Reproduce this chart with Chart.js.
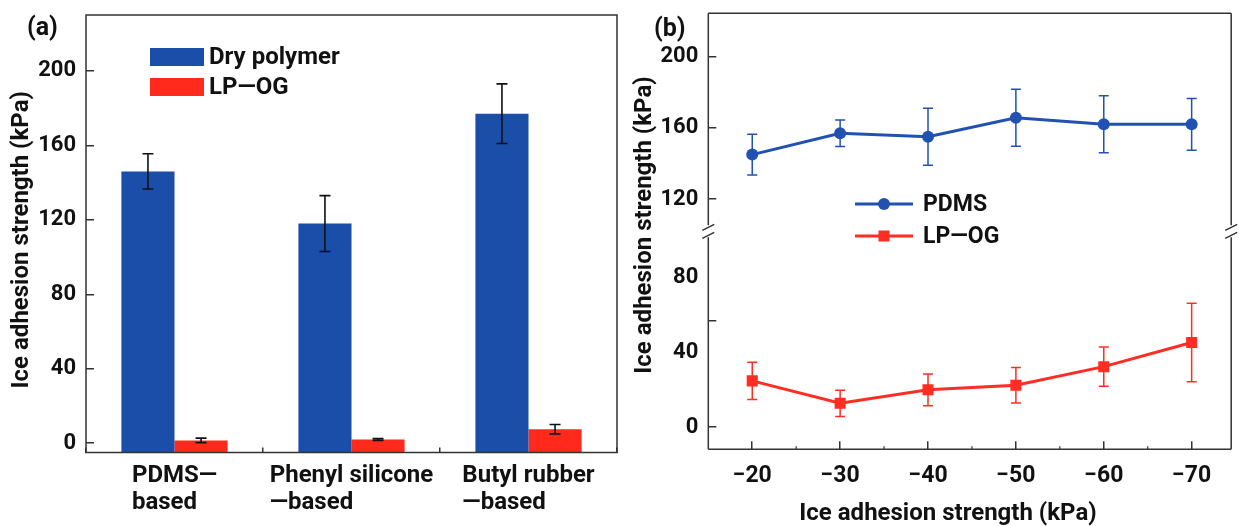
<!DOCTYPE html>
<html>
<head>
<meta charset="utf-8">
<script src="https://cdn.jsdelivr.net/npm/chart.js@4.4.1/dist/chart.umd.min.js"></script>
<style>
  html, body { margin: 0; padding: 0; background: #fff; }
  #wrap { position: relative; width: 1239px; height: 526px; }
  canvas { position: absolute; top: 0; }
  #chartA { left: 0; }
  #chartB { left: 620px; }
</style>
</head>
<body>
<div id="wrap">
  <canvas id="chartA" width="620" height="526"></canvas>
  <canvas id="chartB" width="619" height="526"></canvas>
</div>
<script>
// (a) ice adhesion of the three polymer families
const polymers = [["PDMS—", "based"], ["Phenyl silicone", "—based"], ["Butyl rubber", "—based"]];
const dryValues = [146, 118, 177];
const dryErrors = [9.5, 15, 16];
const lpogValues = [1.5, 2, 7.5];
const lpogErrors = [1.2, 0.5, 2.5];
const ticksA = [0, 40, 80, 120, 160, 200];

// (b) adhesion versus temperature
const temps = [-20, -30, -40, -50, -60, -70];
const minorTemps = [-25, -35, -45, -55, -65];
const pdmsValues = [145, 157, 155, 165.7, 162, 162];
const pdmsErrors = [11.5, 7.5, 16, 16, 16, 14.5];
const lpogTempValues = [24.8, 12.8, 20, 22.5, 32.4, 45.3];
const lpogTempErrors = [10, 7, 8.5, 9.5, 10.5, 21];
const upperTicks = [120, 160, 200];
const lowerLabelTicks = [0, 40, 80];
const lowerMarkTicks = [0, 57];

const FONT = 'Roboto, "Liberation Sans", sans-serif';
const BLUE = '#1b4ea8';
const RED = '#ff2a1c';
const LINE_BLUE = '#2152b2';
const LINE_RED = '#ff2d22';
const TEXT = '#111';
const AXIS = '#333';
const TITLE = 'Ice adhesion strength (kPa)';

Chart.defaults.font.family = FONT;
Chart.defaults.font.weight = 'bold';
Chart.defaults.color = TEXT;

// keep the label overhang of a scale from pushing the plot area around
function noOverhang(s) {
  s.paddingTop = 0;
  s.paddingBottom = 0;
  s.paddingLeft = 0;
  s.paddingRight = 0;
}

const errorBars = {
  id: 'errorBars',
  afterDatasetsDraw(chart) {
    const ctx = chart.ctx;
    chart.data.datasets.forEach((ds, di) => {
      if (!ds.errors) return;
      const meta = chart.getDatasetMeta(di);
      const ys = chart.scales[meta.yAxisID];
      ctx.save();
      ctx.strokeStyle = ds.errorColor;
      ctx.lineWidth = ds.errorWidth;
      meta.data.forEach((el, i) => {
        const raw = ds.data[i];
        const v = typeof raw === 'object' ? raw.y : raw;
        const e = ds.errors[i];
        const top = ys.getPixelForValue(v + e);
        const bot = ys.getPixelForValue(v - e);
        const x = el.x, c = ds.capHalf;
        ctx.beginPath();
        ctx.moveTo(x, top); ctx.lineTo(x, bot);
        ctx.moveTo(x - c, top); ctx.lineTo(x + c, top);
        ctx.moveTo(x - c, bot); ctx.lineTo(x + c, bot);
        ctx.stroke();
      });
      ctx.restore();
    });
  }
};

function rotatedText(ctx, text, x, y) {
  ctx.save();
  ctx.translate(x, y);
  ctx.rotate(-Math.PI / 2);
  ctx.textAlign = 'center';
  ctx.textBaseline = 'middle';
  ctx.fillText(text, 0, 0);
  ctx.restore();
}

// frame, legend, category labels and titles of panel (a)
const decorA = {
  id: 'decorA',
  afterDraw(chart) {
    const { ctx, chartArea: ca } = chart;
    ctx.save();
    ctx.strokeStyle = AXIS;
    ctx.lineWidth = 1.5;
    ctx.strokeRect(ca.left, ca.top, ca.right - ca.left, ca.bottom - ca.top);

    ctx.fillStyle = TEXT;
    ctx.textAlign = 'left';
    ctx.font = `bold 25px ${FONT}`;
    ctx.fillText('(a)', 27, 35);

    ctx.font = `bold 24px ${FONT}`;
    ctx.textBaseline = 'middle';
    chart.data.datasets.forEach((ds, k) => {
      ctx.fillStyle = ds.backgroundColor;
      ctx.fillRect(150, 48 + k * 30, 54, 18);
      ctx.fillStyle = TEXT;
      ctx.fillText(ds.label, 209, 58 + k * 30);
    });

    const xs = chart.scales.x;
    polymers.forEach((lines, i) => {
      const cx = xs.getPixelForValue(i);
      const w = Math.max(...lines.map(l => ctx.measureText(l).width));
      lines.forEach((l, k) => ctx.fillText(l, cx - w / 2, 476 + k * 27));
    });

    rotatedText(ctx, TITLE, 22, (ca.top + ca.bottom) / 2 + 6);
    ctx.restore();
  }
};

new Chart(document.getElementById('chartA'), {
  type: 'bar',
  data: {
    labels: polymers,
    datasets: [
      { label: 'Dry polymer', data: dryValues, errors: dryErrors, backgroundColor: BLUE,
        base: -5, errorColor: '#111', errorWidth: 1.6, capHalf: 5.5 },
      { label: 'LP—OG', data: lpogValues, errors: lpogErrors, backgroundColor: RED,
        base: -5, errorColor: '#111', errorWidth: 1.6, capHalf: 5.5 }
    ]
  },
  options: {
    responsive: false,
    devicePixelRatio: 1,
    animation: false,
    layout: { padding: { left: 0, top: 15, right: 3, bottom: 0 } },
    datasets: { bar: { categoryPercentage: 0.6, barPercentage: 1.0 } },
    plugins: { legend: { display: false }, tooltip: { enabled: false } },
    scales: {
      x: {
        grid: { drawOnChartArea: false, tickLength: -5, color: AXIS, lineWidth: 1.5 },
        border: { display: false },
        ticks: { display: false },
        afterFit: s => { noOverhang(s); s.height = 526 - 452.5; }
      },
      y: {
        min: -5,
        max: 230,
        afterBuildTicks: s => { s.ticks = ticksA.map(v => ({ value: v })); },
        grid: { drawOnChartArea: false, tickLength: -8, color: AXIS, lineWidth: 1.5 },
        border: { display: false },
        ticks: { padding: 18, font: { size: 22, weight: 'bold' }, color: TEXT },
        afterFit: s => { noOverhang(s); s.width = 86; }
      }
    }
  },
  plugins: [errorBars, decorA]
});

// frame with axis breaks, legend and titles of panel (b)
const decorB = {
  id: 'decorB',
  afterDraw(chart) {
    const { ctx, chartArea: ca } = chart;
    const breakY = chart.scales.yTop.bottom;
    const gap = 6;
    ctx.save();
    ctx.strokeStyle = AXIS;
    ctx.lineWidth = 1.5;
    ctx.beginPath();
    ctx.moveTo(ca.left, ca.top); ctx.lineTo(ca.right, ca.top);
    ctx.moveTo(ca.left, ca.bottom); ctx.lineTo(ca.right, ca.bottom);
    [ca.left, ca.right].forEach(x => {
      ctx.moveTo(x, ca.top); ctx.lineTo(x, breakY - gap);
      ctx.moveTo(x, breakY + gap); ctx.lineTo(x, ca.bottom);
      [-4, 4].forEach(d => {
        ctx.moveTo(x - 6, breakY + d + 3);
        ctx.lineTo(x + 6, breakY + d - 3);
      });
    });
    ctx.stroke();

    // minor ticks along the temperature axis
    const xs = chart.scales.x;
    ctx.lineWidth = 1.2;
    ctx.beginPath();
    minorTemps.forEach(t => {
      const x = xs.getPixelForValue(t);
      ctx.moveTo(x, ca.bottom); ctx.lineTo(x, ca.bottom - 3);
    });
    ctx.stroke();

    ctx.fillStyle = TEXT;
    ctx.textAlign = 'left';
    ctx.font = `bold 25px ${FONT}`;
    ctx.fillText('(b)', 34, 36);

    ctx.font = `bold 23px ${FONT}`;
    ctx.textBaseline = 'middle';
    chart.data.datasets.forEach((ds, k) => {
      const y = 204 + k * 32;
      ctx.strokeStyle = ds.borderColor;
      ctx.fillStyle = ds.borderColor;
      ctx.lineWidth = 3;
      ctx.beginPath();
      ctx.moveTo(235, y); ctx.lineTo(293, y);
      ctx.stroke();
      if (ds.pointStyle === 'circle') {
        ctx.beginPath();
        ctx.arc(264, y, 6, 0, Math.PI * 2);
        ctx.fill();
      } else {
        ctx.fillRect(258.5, y - 5.5, 11, 11);
      }
      ctx.fillStyle = TEXT;
      ctx.fillText(ds.label, 303, y + 1);
    });

    ctx.font = `bold 24px ${FONT}`;
    rotatedText(ctx, TITLE, 25, 225);
    ctx.textAlign = 'center';
    ctx.fillText(TITLE, 328, 514);
    ctx.restore();
  }
};

const yCommon = {
  type: 'linear',
  position: 'left',
  stack: 'temp',
  stackWeight: 1,
  border: { display: false },
  ticks: { padding: 18, font: { size: 22, weight: 'bold' }, color: TEXT },
  afterFit: s => { noOverhang(s); s.width = 88.3; }
};

new Chart(document.getElementById('chartB'), {
  type: 'line',
  data: {
    datasets: [
      { label: 'PDMS', yAxisID: 'yTop',
        data: temps.map((t, i) => ({ x: t, y: pdmsValues[i] })),
        errors: pdmsErrors, errorColor: LINE_BLUE, errorWidth: 1.5, capHalf: 5,
        borderColor: LINE_BLUE, backgroundColor: LINE_BLUE, borderWidth: 3,
        pointStyle: 'circle', pointRadius: 6, pointBorderWidth: 0 },
      { label: 'LP—OG', yAxisID: 'yBot',
        data: temps.map((t, i) => ({ x: t, y: lpogTempValues[i] })),
        errors: lpogTempErrors, errorColor: LINE_RED, errorWidth: 1.5, capHalf: 5,
        borderColor: LINE_RED, backgroundColor: LINE_RED, borderWidth: 3,
        pointStyle: 'rect', pointRadius: 7.8, pointBorderWidth: 0 }
    ]
  },
  options: {
    responsive: false,
    devicePixelRatio: 1,
    animation: false,
    layout: { padding: { left: 0, top: 13.3, right: 2, bottom: 0 } },
    plugins: { legend: { display: false }, tooltip: { enabled: false } },
    scales: {
      x: {
        type: 'linear',
        reverse: true,
        min: -74.5,
        max: -15,
        afterBuildTicks: s => { s.ticks = temps.map(v => ({ value: v })); },
        ticks: { callback: v => '−' + Math.abs(v), padding: 21.5, font: { size: 23, weight: 'bold' }, color: TEXT },
        grid: { drawOnChartArea: false, tickLength: -8, color: AXIS, lineWidth: 1.5 },
        border: { display: false },
        afterFit: s => { noOverhang(s); s.height = 526 - 449.3; }
      },
      yTop: Object.assign({}, yCommon, {
        weight: 2,
        min: 101.9,
        max: 224.4,
        afterBuildTicks: s => { s.ticks = upperTicks.map(v => ({ value: v })); },
        grid: { drawOnChartArea: false, tickLength: -8, color: AXIS, lineWidth: 1.5 }
      }),
      yBot: Object.assign({}, yCommon, {
        weight: 1,
        min: -11.8,
        max: 104.8,
        afterBuildTicks: s => {
          const vals = [...new Set([...lowerLabelTicks, ...lowerMarkTicks])].sort((a, b) => a - b);
          s.ticks = vals.map(v => ({ value: v }));
        },
        ticks: Object.assign({}, yCommon.ticks, {
          callback: v => lowerLabelTicks.includes(v) ? String(v) : ''
        }),
        grid: {
          drawOnChartArea: false, tickLength: -8, lineWidth: 1.5,
          color: c => lowerMarkTicks.includes(c.tick.value) ? AXIS : 'rgba(0,0,0,0)'
        }
      })
    }
  },
  plugins: [errorBars, decorB]
});
</script>
</body>
</html>
